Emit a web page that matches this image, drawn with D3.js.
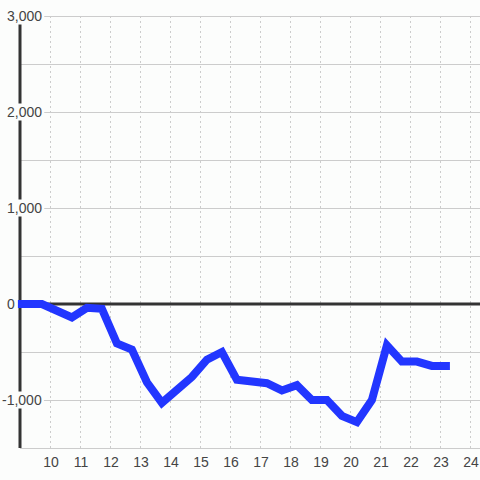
<!DOCTYPE html>
<html><head><meta charset="utf-8">
<script src="https://cdn.jsdelivr.net/npm/d3@7"></script>
<style>html,body{margin:0;padding:0;background:#fcfdfc;}svg{display:block;}</style>
</head><body>
<svg id="c" width="480" height="480"></svg>
<script>
const xValues = [8.93, 9.73, 10.73, 11.23, 11.73, 12.23, 12.73, 13.23, 13.73, 14.73, 15.23, 15.73, 16.23, 17.23, 17.73, 18.23, 18.73, 19.23, 19.73, 20.23, 20.73, 21.23, 21.73, 22.23, 22.73, 23.33];
const yValues = [0, 0, -140, -40, -50, -410, -475, -815, -1030, -760, -580, -500, -790, -825, -900, -845, -1000, -1000, -1165, -1230, -1000, -430, -600, -600, -645, -645];
const xTicks = [10, 11, 12, 13, 14, 15, 16, 17, 18, 19, 20, 21, 22, 23, 24];
const xGrid = [10, 11, 12, 13, 14, 15, 16, 17, 18, 19, 20, 21, 22, 23, 24];
const yGrid = [-1500, -1000, -500, 0, 500, 1000, 1500, 2000, 2500, 3000];
const yLabels = [-1000, 0, 1000, 2000, 3000];

const svg = d3.select("#c");
const x = d3.scaleLinear().domain([9, 24.333]).range([20, 480]);
const y = d3.scaleLinear().domain([-1500, 3000]).range([448, 16]);
const fmt = d3.format(",");

// horizontal grid
svg.append("g").selectAll("line").data(yGrid).join("line")
  .attr("x1", x(9)).attr("x2", 480)
  .attr("y1", d => y(d)).attr("y2", d => y(d))
  .attr("stroke", "#cccccc").attr("stroke-width", 1).attr("shape-rendering", "crispEdges");

// vertical dotted grid
svg.append("g").selectAll("line").data(xGrid).join("line")
  .attr("x1", d => Math.round(x(d)) + 0.5).attr("x2", d => Math.round(x(d)) + 0.5)
  .attr("y1", y(3000)).attr("y2", y(-1500))
  .attr("stroke", "#cccccc").attr("stroke-width", 1).attr("stroke-dasharray", "2,3");

// left axis
svg.append("line").attr("x1", x(9)).attr("x2", x(9)).attr("y1", y(3000)).attr("y2", y(-1500))
  .attr("stroke", "#333").attr("stroke-width", 3);
// zero line
svg.append("line").attr("x1", x(9)).attr("x2", 480).attr("y1", y(0)).attr("y2", y(0))
  .attr("stroke", "#333").attr("stroke-width", 3);

// y labels with background
const yl = svg.append("g").selectAll("g").data(yLabels).join("g")
  .attr("transform", d => `translate(7,${y(d)})`);
yl.append("text")
  .attr("x", d => d < 0 ? -5 : 0)
  .attr("dy", "0.36em")
  .attr("text-anchor", "start")
  .attr("font-family", "'Liberation Sans', Arial, sans-serif")
  .attr("font-size", 14).attr("fill", "#444")
  .text(d => fmt(d).replace("−", "-"));
yl.each(function() {
  const g = d3.select(this);
  const bb = g.select("text").node().getBBox();
  g.insert("rect", "text").attr("x", bb.x - 1).attr("y", -8.5).attr("width", bb.width + 3).attr("height", 17)
    .attr("fill", "#fcfdfc");
});

// x labels
svg.append("g").selectAll("text").data(xTicks).join("text")
  .attr("x", d => x(d) + 1).attr("y", 467)
  .attr("text-anchor", "middle")
  .attr("font-family", "'Liberation Sans', Arial, sans-serif")
  .attr("font-size", 14).attr("fill", "#444")
  .text(d => d);

// data line
const data = xValues.map((v, i) => [v, yValues[i]]);
svg.append("path").datum(data)
  .attr("d", d3.line().x(d => x(d[0])).y(d => y(d[1])))
  .attr("fill", "none").attr("stroke", "#2236ff").attr("stroke-width", 8)
  .attr("stroke-linejoin", "miter").attr("stroke-linecap", "butt");
</script>
</body></html>
